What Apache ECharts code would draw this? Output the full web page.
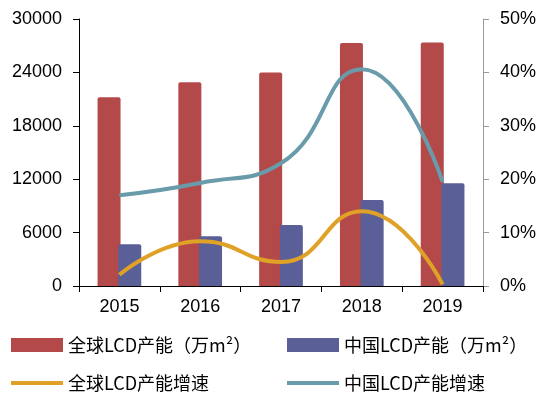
<!DOCTYPE html>
<html>
<head>
<meta charset="utf-8">
<script src="https://cdn.jsdelivr.net/npm/echarts@6/dist/echarts.min.js"></script>
<style>html,body{margin:0;padding:0;background:#fff}#c{width:550px;height:396px}</style>
</head>
<body>
<div id="c"></div>
<script>
var categories = ['2015', '2016', '2017', '2018', '2019'];
var globalCap = [21200, 22900, 24000, 27300, 27350];
var chinaCap = [4700, 5600, 6850, 9650, 11550];
var globalGrowth = [2.1, 8.4, 4.5, 14.0, 0.3];
var chinaGrowth = [17.0, 19.3, 23.0, 40.6, 19.5];
var leftTicks = { min: 0, max: 30000, interval: 6000 };
var rightTicks = { min: 0, max: 50, interval: 10 };
var names = ['全球LCD产能（万m²）', '中国LCD产能（万m²）', '全球LCD产能增速', '中国LCD产能增速'];

var chart = echarts.init(document.getElementById('c'));
var txt = { color: '#000', fontSize: 18, fontFamily: 'Noto Sans CJK SC' };
function lg(name, left, top, h) {
  return { data: [name], left: left, top: top, itemWidth: 52, itemHeight: h, itemGap: 0,
    padding: 0, textStyle: txt, icon: 'rect', selectedMode: false };
}
chart.setOption({
  animation: false,
  grid: { left: 79, right: 67, top: 19, bottom: 110 },
  legend: [lg(names[0], 11, 336, 14), lg(names[1], 287, 336, 14), lg(names[2], 11, 374, 4), lg(names[3], 287, 374, 4)],
  xAxis: {
    type: 'category', data: categories, boundaryGap: true,
    axisLine: { lineStyle: { color: '#000', width: 1 } },
    axisTick: { show: true, length: 6, lineStyle: { color: '#000' } },
    axisLabel: { color: '#000', fontSize: 18, fontFamily: 'Liberation Sans', margin: 12 }
  },
  yAxis: [{
    type: 'value', min: leftTicks.min, max: leftTicks.max, interval: leftTicks.interval,
    axisLine: { show: true, lineStyle: { color: '#000' } },
    axisTick: { show: true, length: 6, lineStyle: { color: '#000' } },
    splitLine: { show: false },
    axisLabel: { color: '#000', fontSize: 18, fontFamily: 'Liberation Sans', margin: 17,
      formatter: function (v) { return String(v); } }
  }, {
    type: 'value', min: rightTicks.min, max: rightTicks.max, interval: rightTicks.interval,
    axisLine: { show: true, lineStyle: { color: '#999' } },
    axisTick: { show: true, length: 6, lineStyle: { color: '#999' } },
    splitLine: { show: false },
    axisLabel: { color: '#000', fontSize: 18, fontFamily: 'Liberation Sans', margin: 17,
      formatter: function (v) { return v + '%'; } }
  }],
  series: [
    { name: names[0], type: 'bar', data: globalCap, barWidth: 23, barGap: '-10%',
      itemStyle: { color: '#B4494A', borderRadius: [2, 2, 0, 0] } },
    { name: names[1], type: 'bar', data: chinaCap, barWidth: 23,
      itemStyle: { color: '#5A5F97', borderRadius: [2, 2, 0, 0] } },
    { name: names[2], type: 'line', yAxisIndex: 1, data: globalGrowth, smooth: 0.5, showSymbol: false,
      lineStyle: { color: '#DFA126', width: 4 }, itemStyle: { color: '#DFA126' } },
    { name: names[3], type: 'line', yAxisIndex: 1, data: chinaGrowth, smooth: 0.5, showSymbol: false,
      lineStyle: { color: '#6A9BAA', width: 4 }, itemStyle: { color: '#6A9BAA' } }
  ]
});
</script>
</body>
</html>
